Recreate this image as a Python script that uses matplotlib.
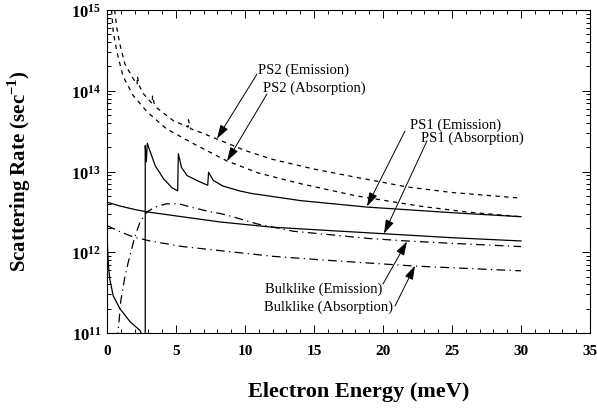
import numpy as np
import matplotlib
matplotlib.use("Agg")
import matplotlib.pyplot as plt
from matplotlib.ticker import FixedLocator, LogLocator, MultipleLocator, NullFormatter

plt.rcParams['font.family'] = ['Liberation Serif', 'DejaVu Serif']
plt.rcParams['mathtext.fontset'] = 'custom'
plt.rcParams['mathtext.rm'] = 'Liberation Serif'
plt.rcParams['mathtext.bf'] = 'Liberation Serif:bold'

# --- data (energy in meV, log10 of rate in 1/s) ---
ps2_em_E = [0.55, 0.72, 0.94, 1.3, 1.9, 2.18, 2.2, 2.35, 2.6, 3.28, 3.3, 3.45, 3.6, 4.8,
            5.88, 5.9, 6.05, 6.7, 8.0, 10, 12, 15, 18, 21.7, 25, 30]
ps2_em_log = [15.0, 14.77, 14.57, 14.33, 14.15, 14.08, 14.18, 14.06, 13.97, 13.84, 13.94, 13.82,
              13.79, 13.63, 13.55, 13.64, 13.53, 13.49, 13.40, 13.26, 13.15, 13.03, 12.93, 12.81,
              12.74, 12.67]

ps2_ab_E = [0.33, 0.45, 0.72, 1.16, 1.9, 2.9, 4.3, 6.2, 8.7, 11, 14, 18, 22.7, 26, 30]
ps2_ab_log = [15.0, 14.73, 14.48, 14.18, 13.94, 13.74, 13.53, 13.35, 13.13, 12.98, 12.85,
              12.70, 12.57, 12.50, 12.44]

ps1_em_E = [0.03, 0.1, 0.2, 0.45, 0.94, 1.67, 2.4, 2.7, 2.77, 2.77, 2.85, 2.92, 3.1, 3.5,
            4.1, 4.7, 5.12, 5.17, 5.4, 5.8, 6.5, 7.3, 7.36, 7.7, 8.4, 9.6, 10.4, 14, 18.8,
            25, 30]
ps1_em_log = [12.1, 11.85, 11.67, 11.46, 11.30, 11.14, 11.03, 10.9, 9.0, 13.32, 13.12, 13.35,
              13.26, 13.07, 12.91, 12.80, 12.76, 13.22, 13.05, 12.95, 12.89, 12.83, 12.99,
              12.89, 12.82, 12.76, 12.73, 12.64, 12.56, 12.49, 12.44]

ps1_ab_E = [0, 1, 2, 2.9, 5, 8.2, 12, 16, 20, 25, 30]
ps1_ab_log = [12.62, 12.57, 12.53, 12.50, 12.45, 12.375, 12.31, 12.27, 12.23, 12.18, 12.14]

bulk_em_E = [0.7, 0.85, 1.0, 1.3, 1.6, 2.0, 2.4, 2.9, 3.5, 4.3, 5.2, 6.3, 7.5, 8.2, 9.1,
             10.9, 13.5, 16, 19, 21.7, 25, 30]
bulk_em_log = [10.9, 11.1, 11.4, 11.7, 11.92, 12.18, 12.38, 12.5, 12.56, 12.6, 12.6, 12.55,
               12.5, 12.48, 12.44, 12.35, 12.26, 12.22, 12.17, 12.14, 12.11, 12.07]

bulk_ab_E = [0, 1, 1.9, 3.1, 5.5, 8.2, 12, 16, 22.2, 26, 30]
bulk_ab_log = [12.33, 12.25, 12.19, 12.14, 12.07, 12.02, 11.95, 11.90, 11.83, 11.80, 11.77]

x_ticks = [0, 5, 10, 15, 20, 25, 30, 35]
y_ticks = [1e11, 1e12, 1e13, 1e14, 1e15]
y_labels = [r'$\mathbf{10^{11}}$', r'$\mathbf{10^{12}}$', r'$\mathbf{10^{13}}$',
            r'$\mathbf{10^{14}}$', r'$\mathbf{10^{15}}$']

fig = plt.figure(figsize=(5.97, 4.14), dpi=100)
ax = fig.add_axes([107/597, 1 - 334/414, (590 - 107)/597, (334 - 11)/414])

lw = 0.9
ax.plot(ps2_em_E, 10**np.array(ps2_em_log), color='k', lw=lw, dashes=(3.5, 3.5))
ax.plot(ps2_ab_E, 10**np.array(ps2_ab_log), color='k', lw=lw, dashes=(3.5, 3.5))
ax.plot(ps1_em_E, 10**np.array(ps1_em_log), color='k', lw=lw)
ax.plot(ps1_ab_E, 10**np.array(ps1_ab_log), color='k', lw=lw)
ax.plot(bulk_em_E, 10**np.array(bulk_em_log), color='k', lw=lw, dashes=(7, 3.5, 1, 3.5))
ax.plot(bulk_ab_E, 10**np.array(bulk_ab_log), color='k', lw=lw, dashes=(7, 3.5, 1, 3.5))

ax.set_yscale('log')
ax.set_xlim(0, 35)
ax.set_ylim(1e11, 1e15)

ax.xaxis.set_major_locator(FixedLocator(x_ticks))
ax.xaxis.set_minor_locator(MultipleLocator(1))
ax.set_xticklabels([str(t) for t in x_ticks], fontweight='bold', fontsize=11)
ax.yaxis.set_major_locator(FixedLocator(y_ticks))
ax.yaxis.set_minor_locator(LogLocator(base=10, subs=np.arange(2, 10)))
ax.yaxis.set_minor_formatter(NullFormatter())
ax.set_yticklabels(y_labels, fontsize=12)

ax.tick_params(which='both', direction='in', top=True, right=True, width=0.7)
ax.tick_params(which='major', length=6)
ax.tick_params(which='minor', length=3)
ax.tick_params(axis='x', pad=8)
ax.tick_params(axis='y', pad=4)
for s in ax.spines.values():
    s.set_linewidth(0.8)

ax.set_xlabel('Electron Energy (meV)', fontsize=16, fontweight='bold', va='center')
ax.set_ylabel(r'Scattering Rate (sec$^{\mathbf{-1}}$)', fontsize=15, fontweight='bold',
              va='center')
ax.xaxis.set_label_coords(0.522, -0.18)
ax.yaxis.set_label_coords(-0.182, 0.505)

# labels and arrows
arrow = dict(arrowstyle='-|>,head_length=0.7,head_width=0.22', color='k', lw=0.7,
             shrinkA=0, shrinkB=0, mutation_scale=12)
tfs = 10.5
ax.text(10.94, 1.86e14, 'PS2 (Emission)', fontsize=tfs, ha='left', va='center')
ax.text(11.30, 1.11e14, 'PS2 (Absorption)', fontsize=tfs, ha='left', va='center')
ax.annotate('', xy=(7.97, 2.55e13), xytext=(10.87, 1.61e14), arrowprops=arrow)
ax.annotate('', xy=(8.70, 1.35e13), xytext=(11.59, 9.1e13), arrowprops=arrow)

ax.text(21.96, 3.87e13, 'PS1 (Emission)', fontsize=tfs, ha='left', va='center')
ax.text(22.75, 2.67e13, 'PS1 (Absorption)', fontsize=tfs, ha='left', va='center')
ax.annotate('', xy=(18.84, 3.7e12), xytext=(21.59, 3.16e13), arrowprops=arrow)
ax.annotate('', xy=(20.07, 1.7e12), xytext=(23.19, 2.4e13), arrowprops=arrow)

ax.text(19.93, 3.6e11, 'Bulklike (Emission)', fontsize=tfs, ha='right', va='center')
ax.text(20.72, 2.16e11, 'Bulklike (Absorption)', fontsize=tfs, ha='right', va='center')
ax.annotate('', xy=(21.74, 1.36e12), xytext=(20.0, 4.05e11), arrowprops=arrow)
ax.annotate('', xy=(22.32, 6.8e11), xytext=(20.87, 2.16e11), arrowprops=arrow)

fig.savefig('out.png', dpi=100)
